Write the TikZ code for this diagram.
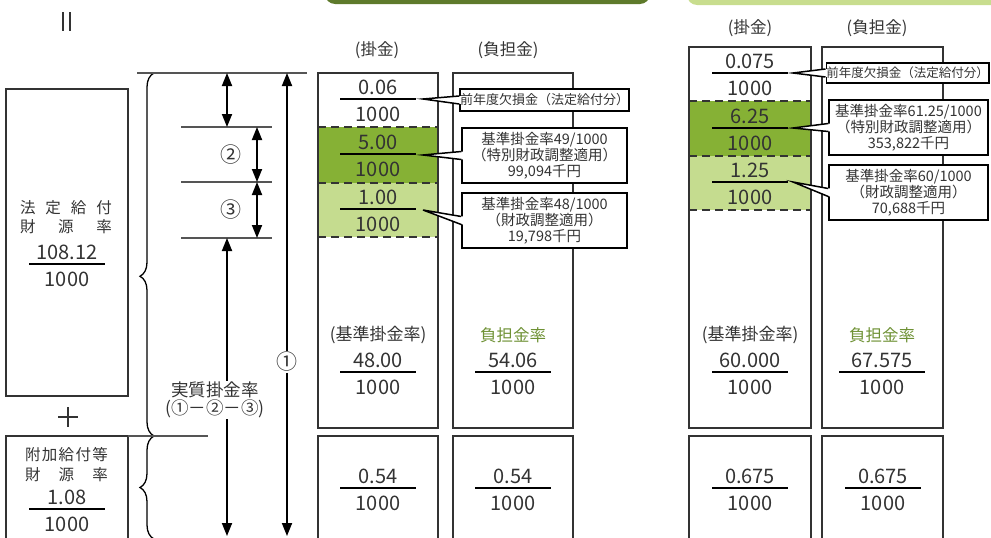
\documentclass[tikz,border=0pt]{standalone}
\usepackage{fontspec}
\setmainfont{Noto Sans CJK JP}
\usetikzlibrary{arrows.meta,decorations.pathreplacing,calc}
\definecolor{txt}{HTML}{333333}
\definecolor{rule}{HTML}{555555}
\definecolor{darkleaf}{HTML}{86B135}
\definecolor{lightleaf}{HTML}{C5DC8F}
\definecolor{bandark}{HTML}{5E7A2B}
\definecolor{banlight}{HTML}{C8DD8E}
\definecolor{rategreen}{HTML}{6E9134}

% name, centre x, bar y, numerator, half bar
\newcommand{\ratio}[5]{%
	\node[num] (#1n) at (#2,#3-12) {#4};
	\node[num] (#1d) at (#2,#3+15) {1000};
	\draw[bar] (#2-#5,#3) -- (#2+#5,#3);
}
% callout node, apex
\newcommand{\pointer}[2]{%
	\fill[white] ($(#1.west)+(1.6,-4)$) -- (#2) -- ($(#1.west)+(1.6,4)$) -- cycle;
	\draw[tail] ($(#1.west)+(0,-4)$) -- (#2) -- ($(#1.west)+(0,4)$);
}

\begin{document}
\begin{tikzpicture}[x=1pt,y=-1pt,
		num/.style={font=\fontsize{20}{20}\selectfont, text=txt, inner sep=0},
		lab/.style={font=\fontsize{16.5}{18}\selectfont, text=txt, inner sep=1pt},
		circ/.style={font=\fontsize{21}{21}\selectfont, text=txt, inner sep=1pt},
		note/.style={draw=black, fill=white, line width=1.5pt, align=center, inner sep=0,
			minimum width=165pt, font=\fontsize{14.5}{16}\selectfont, text=txt},
		short/.style={font=\fontsize{13}{16}\selectfont},
		frame/.style={draw=txt, line width=1.5pt},
		bar/.style={draw=black, line width=1.2pt},
		rule/.style={draw=rule, line width=1.5pt},
		cut/.style={draw=txt, line width=1.5pt, dash pattern=on 8pt off 5pt},
		tail/.style={draw=black, line width=1.5pt, line join=miter},
		dim/.style={draw=black, line width=1.8pt, -{Triangle[width=10pt,length=13pt]}},
		dimboth/.style={dim, {Triangle[width=10pt,length=13pt]}-{Triangle[width=10pt,length=13pt]}},
		curly/.style={draw=black, line width=1.3pt, decorate}]
	\useasboundingbox (0,0) rectangle (991,538);

	% title bands (cut at the top)
	\fill[bandark, rounded corners=10pt] (325,-30) rectangle (650,4);
	\fill[banlight, rounded corners=10pt] (687,-30) rectangle (1010,5);

	% equals sign, turned
	\draw[txt, line width=1.2pt] (63,12) -- (63,31);
	\draw[txt, line width=1.2pt] (70,12) -- (70,31);

	% left boxes
	\draw[frame] (6,89) rectangle (128,396);
	\draw[frame] (6,436) rectangle (128,560);
	\node[lab, font=\fontsize{15.5}{18}\selectfont] (lawa) at (66,208) {\makebox[92pt]{法\hfill 定\hfill 給\hfill 付}};
	\node[lab, font=\fontsize{15.5}{18}\selectfont] (lawb) at (66,227) {\makebox[92pt]{財\hfill 源\hfill 率}};
	\ratio{law}{67}{264}{108.12}{38}
	\draw[txt, line width=1.3pt] (58,417) -- (78,417);
	\draw[txt, line width=1.3pt] (68,407) -- (68,427);
	\node[lab, font=\fontsize{15.5}{18}\selectfont] (adda) at (66.5,455) {\makebox[83pt]{附\hfill 加\hfill 給\hfill 付\hfill 等}};
	\node[lab, font=\fontsize{15.5}{18}\selectfont] (addb) at (66.5,475) {\makebox[83pt]{財\hfill 源\hfill 率}};
	\ratio{add}{67}{509}{1.08}{38}

	% braces
	\draw[curly, decoration={brace, amplitude=14pt, aspect=0.44}] (154,436) -- (154,73);
	\draw[curly, decoration={brace, amplitude=14pt, aspect=0.5}] (154,539) -- (154,436);

	% measuring lines
	\draw[rule] (137,73) -- (307,73);
	\draw[rule] (181,127) -- (272,127);
	\draw[rule] (181,182) -- (272,182);
	\draw[rule] (181,238) -- (272,238);
	\draw[rule] (128,436) -- (208,436);

	\coordinate (a0) at (227,73);
	\coordinate (a1) at (227,127);
	\coordinate (a3) at (227,238);
	\coordinate (a4) at (227,536);
	\coordinate (b1) at (257,127);
	\coordinate (b2) at (257,182);
	\coordinate (b3) at (257,238);
	\coordinate (oneup) at (287,73);
	\coordinate (onedn) at (287,536);
	\draw[dimboth] (a0) -- (a1);
	\draw[dimboth] (b1) -- (b2);
	\draw[dimboth] (b2) -- (b3);
	\node[circ] (two) at (231,155) {②};
	\node[circ] (three) at (231,210) {③};
	\node[lab, font=\fontsize{17.5}{18}\selectfont, align=center] (real) at (215,400) {実質掛金率\\(①－②－③)};
	\draw[dim] (a3 |- real.north) -- (a3);
	\draw[dim] (a4 |- real.south) -- (a4);
	\node[circ, fill=white] (one) at (287,362) {①};
	\draw[dim] (one) -- (oneup);
	\draw[dim] (one) -- (onedn);

	% first pair of columns
	\fill[darkleaf] (318,127) rectangle (438,183);
	\fill[lightleaf] (318,183) rectangle (438,237);
	\draw[frame] (318,73) rectangle (438,428);
	\draw[frame] (453,73) rectangle (573,428);
	\draw[frame] (318,436) rectangle (438,560);
	\draw[frame] (453,436) rectangle (573,560);
	\draw[cut] (318,127) -- (438,127);
	\draw[cut] (318,183) -- (438,183);
	\draw[cut] (318,237) -- (438,237);
	\node[lab] (heada) at (377,50) {(掛金)};
	\node[lab] (headb) at (508,50) {(負担金)};
	\ratio{loss}{378}{99}{0.06}{38}
	\ratio{spec}{378}{154}{5.00}{38}
	\ratio{fin}{378}{209}{1.00}{38}
	\node[lab, font=\fontsize{17}{18}\selectfont] (basea) at (378,335) {(基準掛金率)};
	\ratio{base}{378}{372}{48.00}{38}
	\node[lab, text=rategreen] (ratea) at (513,335) {負担金率};
	\ratio{rate}{513}{372}{54.06}{38}
	\ratio{extra}{378}{488}{0.54}{38}
	\ratio{extrb}{513}{488}{0.54}{38}

	\coordinate (p1) at (423,99);
	\coordinate (p2) at (423,155);
	\coordinate (p3) at (423,210);
	\node[note, short, minimum height=22pt] (c1) at (544.5,100) {前年度欠損金（法定給付分）};
	\pointer{c1}{p1}
	\node[note, minimum height=55pt] (c2) at (544.5,155.5) {基準掛金率49/1000\\（特別財政調整適用）\\99,094千円};
	\pointer{c2}{p2}
	\node[note, minimum height=55pt] (c3) at (544.5,220.5) {基準掛金率48/1000\\（財政調整適用）\\19,798千円};
	\pointer{c3}{p3}

	% second pair of columns
	\fill[darkleaf] (689,101) rectangle (811,156);
	\fill[lightleaf] (689,156) rectangle (811,210);
	\draw[frame] (689,47) rectangle (811,428);
	\draw[frame] (822,47) rectangle (943,428);
	\draw[frame] (689,436) rectangle (811,560);
	\draw[frame] (822,436) rectangle (943,560);
	\draw[cut] (689,101) -- (811,101);
	\draw[cut] (689,156) -- (811,156);
	\draw[cut] (689,210) -- (811,210);
	\node[lab] (headc) at (750,28) {(掛金)};
	\node[lab] (headd) at (877,28) {(負担金)};
	\ratio{lossb}{750}{73}{0.075}{38}
	\ratio{specb}{750}{128}{6.25}{38}
	\ratio{finb}{750}{182}{1.25}{38}
	\node[lab, font=\fontsize{17}{18}\selectfont] (baseb) at (750,335) {(基準掛金率)};
	\ratio{basec}{750}{372}{60.000}{38}
	\node[lab, text=rategreen] (rateb) at (882,335) {負担金率};
	\ratio{ratec}{882}{372}{67.575}{43}
	\ratio{extrc}{750}{488}{0.675}{38}
	\ratio{extrd}{883}{488}{0.675}{38}

	\coordinate (q1) at (793,73);
	\coordinate (q2) at (793,128);
	\coordinate (q3) at (793,182);
	\node[note, font=\fontsize{12.5}{16}\selectfont, minimum height=20pt, minimum width=157pt] (d1) at (907.5,73) {前年度欠損金（法定給付分）};
	\pointer{d1}{q1}
	\node[note, minimum height=55pt, minimum width=159pt] (d2) at (908.5,127.5) {基準掛金率61.25/1000\\（特別財政調整適用）\\353,822千円};
	\pointer{d2}{q2}
	\node[note, minimum height=55pt, minimum width=159pt] (d3) at (908.5,192.5) {基準掛金率60/1000\\（財政調整適用）\\70,688千円};
	\pointer{d3}{q3}
\end{tikzpicture}
\end{document}
